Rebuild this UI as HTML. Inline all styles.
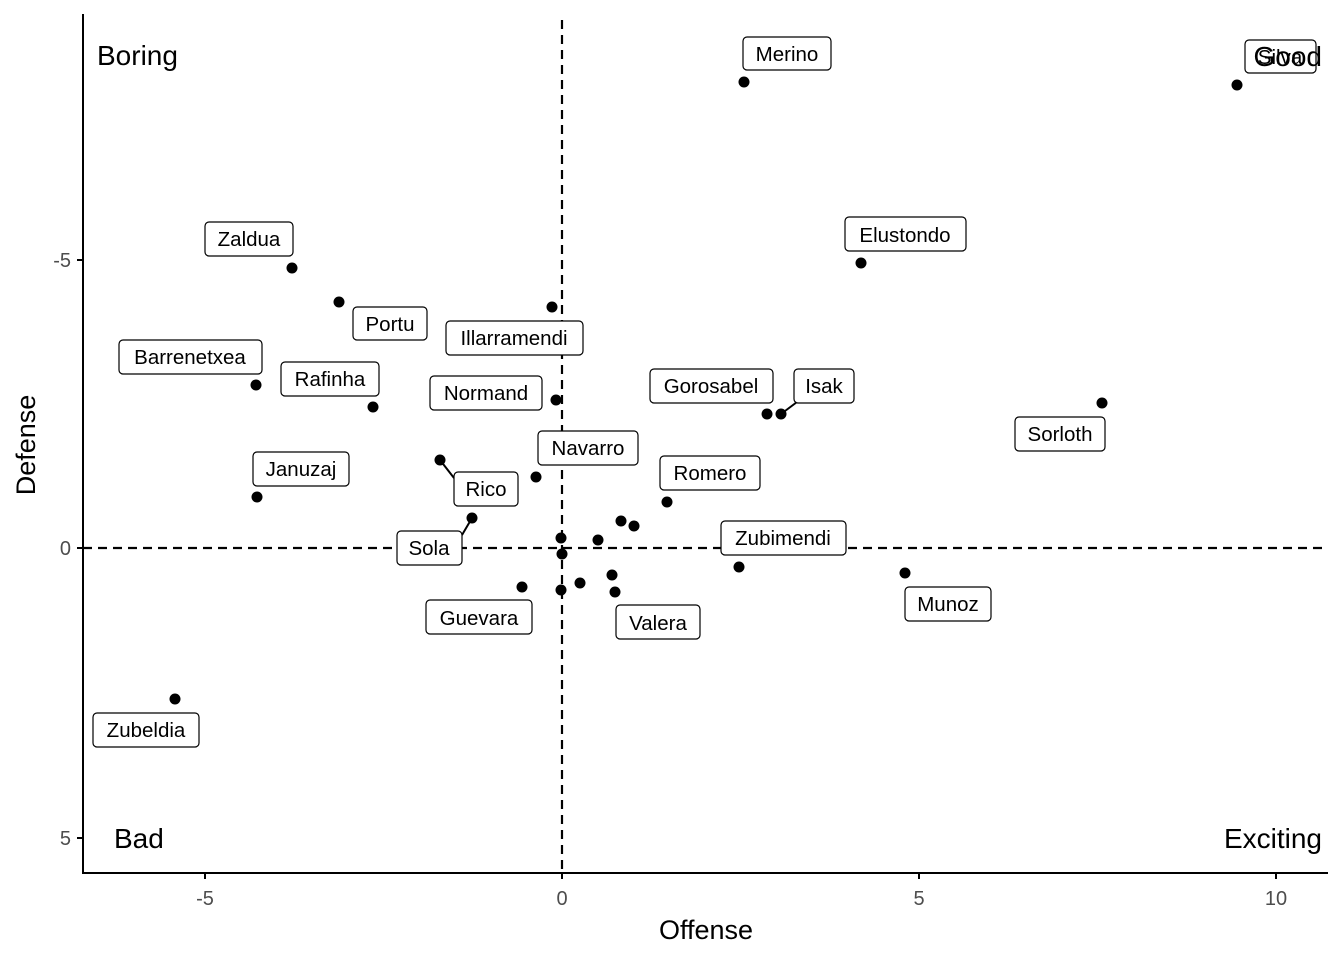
<!DOCTYPE html>
<html><head><meta charset="utf-8"><style>body{margin:0;background:#fff}svg{display:block;font-family:"Liberation Sans",Arial,sans-serif}</style></head><body>
<svg width="1344" height="960" viewBox="0 0 1344 960" xmlns="http://www.w3.org/2000/svg">
<rect width="1344" height="960" fill="#fff"/>
<g stroke="#000" stroke-width="2.2" stroke-dasharray="9,6" fill="none">
<line x1="562" y1="20" x2="562" y2="873"/>
<line x1="83" y1="548" x2="1328" y2="548"/>
</g>
<g stroke="#000" stroke-width="2" fill="none">
<line x1="83" y1="14" x2="83" y2="874"/>
<line x1="82" y1="873" x2="1328" y2="873"/>
<line x1="77" y1="260" x2="83" y2="260"/><line x1="77" y1="548" x2="83" y2="548"/><line x1="77" y1="838" x2="83" y2="838"/>
<line x1="205" y1="873" x2="205" y2="879"/><line x1="562" y1="873" x2="562" y2="879"/><line x1="919" y1="873" x2="919" y2="879"/><line x1="1276" y1="873" x2="1276" y2="879"/>
</g>
<g font-size="20" fill="#4d4d4d" text-anchor="end">
<text x="71" y="267">-5</text><text x="71" y="555">0</text><text x="71" y="845">5</text>
</g>
<g font-size="20" fill="#4d4d4d" text-anchor="middle">
<text x="205" y="905">-5</text><text x="562" y="905">0</text><text x="919" y="905">5</text><text x="1276" y="905">10</text>
</g>
<text x="706" y="939" font-size="27" text-anchor="middle">Offense</text>
<text transform="translate(35,445) rotate(-90)" font-size="27" text-anchor="middle">Defense</text>
<g font-size="28">
<text x="97" y="65">Boring</text><text x="114" y="848">Bad</text>
<text x="1322" y="848" text-anchor="end">Exciting</text>
</g>
<g stroke="#000" stroke-width="2">
<line x1="781" y1="414" x2="797" y2="402"/>
<line x1="440" y1="460" x2="454" y2="478"/>
<line x1="472" y1="518" x2="462" y2="535"/>
</g>
<g fill="#000">
<circle cx="744" cy="82" r="5.5"/><circle cx="1237" cy="85" r="5.5"/><circle cx="861" cy="263" r="5.5"/>
<circle cx="292" cy="268" r="5.5"/><circle cx="339" cy="302" r="5.5"/><circle cx="552" cy="307" r="5.5"/>
<circle cx="256" cy="385" r="5.5"/><circle cx="373" cy="407" r="5.5"/><circle cx="556" cy="400" r="5.5"/>
<circle cx="767" cy="414" r="5.5"/><circle cx="781" cy="414" r="5.5"/><circle cx="1102" cy="403" r="5.5"/>
<circle cx="536" cy="477" r="5.5"/><circle cx="440" cy="460" r="5.5"/><circle cx="472" cy="518" r="5.5"/>
<circle cx="257" cy="497" r="5.5"/><circle cx="667" cy="502" r="5.5"/><circle cx="621" cy="521" r="5.5"/>
<circle cx="634" cy="526" r="5.5"/><circle cx="598" cy="540" r="5.5"/><circle cx="561" cy="538" r="5.5"/>
<circle cx="562" cy="554" r="5.5"/><circle cx="739" cy="567" r="5.5"/><circle cx="905" cy="573" r="5.5"/>
<circle cx="522" cy="587" r="5.5"/><circle cx="580" cy="583" r="5.5"/><circle cx="612" cy="575" r="5.5"/>
<circle cx="615" cy="592" r="5.5"/><circle cx="561" cy="590" r="5.5"/><circle cx="175" cy="699" r="5.5"/>
</g>
<g fill="#fff" stroke="#000" stroke-width="1.2">
<rect x="743" y="37" width="88" height="33" rx="4"/>
<rect x="1245" y="40" width="71" height="33" rx="4"/>
<rect x="845" y="217" width="121" height="34" rx="4"/>
<rect x="205" y="222" width="88" height="34" rx="4"/>
<rect x="353" y="307" width="74" height="33" rx="4"/>
<rect x="446" y="321" width="137" height="34" rx="4"/>
<rect x="119" y="340" width="143" height="34" rx="4"/>
<rect x="281" y="362" width="98" height="34" rx="4"/>
<rect x="430" y="376" width="112" height="34" rx="4"/>
<rect x="650" y="369" width="123" height="34" rx="4"/>
<rect x="794" y="369" width="60" height="34" rx="4"/>
<rect x="1015" y="417" width="90" height="34" rx="4"/>
<rect x="538" y="431" width="100" height="34" rx="4"/>
<rect x="454" y="472" width="64" height="34" rx="4"/>
<rect x="253" y="452" width="96" height="34" rx="4"/>
<rect x="660" y="456" width="100" height="34" rx="4"/>
<rect x="397" y="531" width="65" height="34" rx="4"/>
<rect x="721" y="521" width="125" height="34" rx="4"/>
<rect x="426" y="600" width="106" height="34" rx="4"/>
<rect x="616" y="605" width="84" height="34" rx="4"/>
<rect x="905" y="587" width="86" height="34" rx="4"/>
<rect x="93" y="713" width="106" height="34" rx="4"/>
</g>
<g font-size="20.5" text-anchor="middle" fill="#000">
<text x="787" y="61">Merino</text>
<text x="1280" y="64">Silva</text>
<text x="905" y="242">Elustondo</text>
<text x="249" y="246">Zaldua</text>
<text x="390" y="331">Portu</text>
<text x="514" y="345">Illarramendi</text>
<text x="190" y="364">Barrenetxea</text>
<text x="330" y="386">Rafinha</text>
<text x="486" y="400">Normand</text>
<text x="711" y="393">Gorosabel</text>
<text x="824" y="393">Isak</text>
<text x="1060" y="441">Sorloth</text>
<text x="588" y="455">Navarro</text>
<text x="486" y="496">Rico</text>
<text x="301" y="476">Januzaj</text>
<text x="710" y="480">Romero</text>
<text x="429" y="555">Sola</text>
<text x="783" y="545">Zubimendi</text>
<text x="479" y="625">Guevara</text>
<text x="658" y="630">Valera</text>
<text x="948" y="611">Munoz</text>
<text x="146" y="737">Zubeldia</text>
</g>
<text x="1322" y="66" font-size="28" text-anchor="end">Good</text>
</svg>
</body></html>
